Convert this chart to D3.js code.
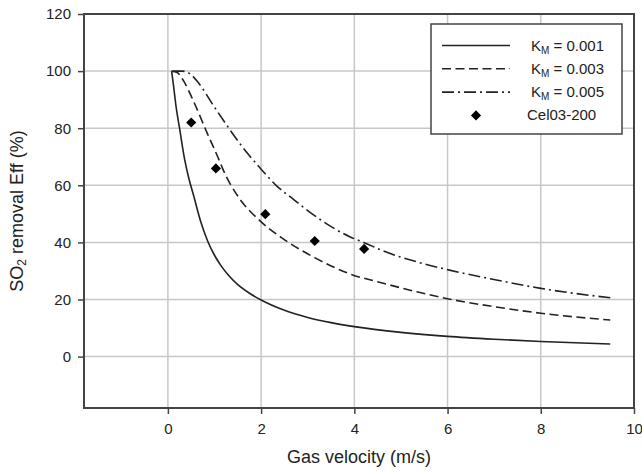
<!DOCTYPE html>
<html>
<head>
<meta charset="utf-8">
<script src="https://cdn.jsdelivr.net/npm/d3@7"></script>
<style>
    body { margin: 0; background: #fff; }
    svg { display: block; font-family: "Liberation Sans", Arial, sans-serif; }
</style>
</head>
<body>
<div id="chart"></div>
<script>
// values: [gas velocity (m/s), SO2 removal eff (%)]
const km001 = [[0.08,100],[0.12,95],[0.18,87],[0.25,80],[0.36,69],[0.45,62.4],[0.55,56.5],[0.7,47.5],
    [0.85,40.6],[1.0,35.5],[1.15,31.6],[1.3,28.5],[1.5,25.2],[1.75,22.2],[2.0,19.8],[2.5,16.2],
    [3.0,13.7],[3.5,11.9],[4.0,10.5],[5.0,8.5],[6.0,7.1],[7.0,6.1],[8.0,5.3],[9.49,4.4]]
const km003 = [[0.08,100],[0.2,99.5],[0.34,96.5],[0.54,89.8],[0.85,78],[1.1,68.8],[1.17,66],
    [1.53,55.5],[1.96,47.8],[2.46,41.4],[3.18,34.4],[3.9,29],[4.62,25.7],[5.34,22.7],
    [6.02,20.2],[7.0,17.5],[8.0,15.2],[9.49,12.8]]
const km005 = [[0.1,100],[0.3,100],[0.45,99.3],[0.67,95.6],[0.95,88.6],[1.24,81.6],[1.6,73.4],
    [1.96,66.4],[2.32,60],[2.7,55],[3.18,49],[3.9,42],[4.2,40],[4.62,37],[5.34,33.2],
    [6.04,30.3],[7.0,27],[8.0,23.9],[9.49,20.6]]
const cel03 = [[0.5,82],[1.03,65.9],[2.09,49.9],[3.15,40.5],[4.21,37.7]]

const xTicks = [0, 2, 4, 6, 8, 10]
const yTicks = [0, 20, 40, 60, 80, 100, 120]
const xDomain = [-1.8, 10]
const yDomain = [-18, 120]

const curves = [
    {k: '0.001', data: km001, dash: null},
    {k: '0.003', data: km003, dash: '9,4.5'},
    {k: '0.005', data: km005, dash: '12,4,2,4'}
]

const width = 642
const height = 472
const plot = {left: 84, right: 634, top: 14, bottom: 408}

const x = d3.scaleLinear().domain(xDomain).range([plot.left, plot.right])
const y = d3.scaleLinear().domain(yDomain).range([plot.bottom, plot.top])

const svg = d3.select('#chart')
    .append('svg')
    .attr('width', width)
    .attr('height', height)

// grid
svg.append('g')
    .selectAll('line')
    .data(xTicks.filter(t => t < 10))
    .enter()
    .append('line')
    .attr('x1', d => x(d)).attr('x2', d => x(d))
    .attr('y1', plot.top).attr('y2', plot.bottom)
    .style('stroke', '#c8c8c8')
    .style('stroke-width', 1.5)

svg.append('g')
    .selectAll('line')
    .data(yTicks.filter(t => t < 120))
    .enter()
    .append('line')
    .attr('x1', plot.left).attr('x2', plot.right)
    .attr('y1', d => y(d)).attr('y2', d => y(d))
    .style('stroke', '#c8c8c8')
    .style('stroke-width', 1.5)

// axes
const xAxis = svg.append('g')
    .attr('transform', `translate(0,${plot.bottom})`)
    .call(d3.axisBottom(x).tickValues(xTicks).tickSize(6).tickPadding(9))
const yAxis = svg.append('g')
    .attr('transform', `translate(${plot.left},0)`)
    .call(d3.axisLeft(y).tickValues(yTicks).tickSize(6).tickPadding(7))

;[xAxis, yAxis].forEach(a => {
    a.select('.domain').remove()
    a.selectAll('line').style('stroke', '#444').style('stroke-width', 1.5)
    a.selectAll('text')
        .style('font-family', '"Liberation Sans", Arial, sans-serif')
        .style('font-size', '15px')
        .style('fill', '#222')
})

svg.append('rect')
    .attr('x', plot.left).attr('y', plot.top)
    .attr('width', plot.right - plot.left).attr('height', plot.bottom - plot.top)
    .style('fill', 'none')
    .style('stroke', '#444')
    .style('stroke-width', 2)

// curves
const line = d3.line()
    .x(d => x(d[0]))
    .y(d => y(d[1]))
    .curve(d3.curveMonotoneX)

svg.selectAll('path.curve')
    .data(curves)
    .enter()
    .append('path')
    .classed('curve', true)
    .attr('d', d => line(d.data))
    .style('fill', 'none')
    .style('stroke', '#222')
    .style('stroke-width', 1.6)
    .style('stroke-dasharray', d => d.dash)

const diamond = d3.symbol().type(d3.symbolSquare).size(52)

svg.selectAll('path.point')
    .data(cel03)
    .enter()
    .append('path')
    .classed('point', true)
    .attr('d', diamond)
    .attr('transform', d => `translate(${x(d[0])},${y(d[1])}) rotate(45)`)
    .style('fill', '#000')

// axis titles
svg.append('text')
    .attr('x', (plot.left + plot.right) / 2)
    .attr('y', 463)
    .attr('text-anchor', 'middle')
    .style('font-size', '18px')
    .style('fill', '#222')
    .text('Gas velocity (m/s)')

const yTitle = svg.append('text')
    .attr('transform', `translate(23,${(plot.top + plot.bottom) / 2}) rotate(-90)`)
    .attr('text-anchor', 'middle')
    .style('font-size', '18px')
    .style('fill', '#222')
yTitle.append('tspan').text('SO')
yTitle.append('tspan').attr('baseline-shift', '-25%').style('font-size', '12px').text('2')
yTitle.append('tspan').text(' removal Eff (%)')

// legend
const legend = svg.append('g')
legend.append('rect')
    .attr('x', 431).attr('y', 24)
    .attr('width', 191).attr('height', 110)
    .style('fill', '#fff')
    .style('stroke', '#444')
    .style('stroke-width', 1.5)

const rowY = i => 45.5 + i * 23.3

curves.forEach((c, i) => {
    legend.append('line')
        .attr('x1', 442).attr('x2', 510)
        .attr('y1', rowY(i)).attr('y2', rowY(i))
        .style('stroke', '#222')
        .style('stroke-width', 1.6)
        .style('stroke-dasharray', c.dash)
    const t = legend.append('text')
        .attr('x', 531).attr('y', rowY(i) + 5)
        .style('font-size', '15px')
        .style('fill', '#222')
    t.append('tspan').text('K')
    t.append('tspan').attr('baseline-shift', '-30%').style('font-size', '10px').text('M')
    t.append('tspan').text(` = ${c.k}`)
})

legend.append('path')
    .attr('d', diamond)
    .attr('transform', `translate(476,${rowY(3)}) rotate(45)`)
    .style('fill', '#000')
legend.append('text')
    .attr('x', 527).attr('y', rowY(3) + 5)
    .style('font-size', '15px')
    .style('fill', '#222')
    .text('Cel03-200')
</script>
</body>
</html>
